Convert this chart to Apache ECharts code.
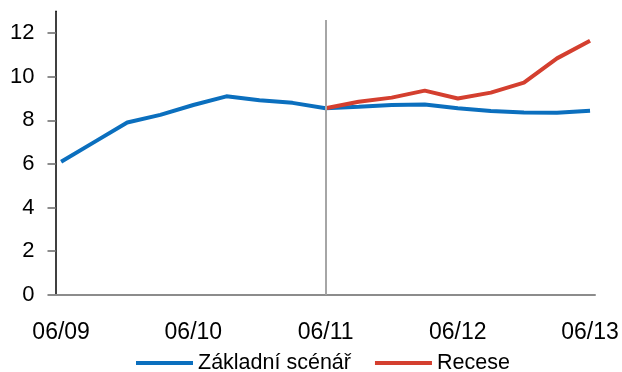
<!DOCTYPE html>
<html>
<head>
<meta charset="utf-8">
<script src="https://cdn.jsdelivr.net/npm/echarts@6/dist/echarts.min.js"></script>
<style>
  html, body { margin: 0; padding: 0; background: #fff; }
  #chart { width: 622px; height: 372px; }
</style>
</head>
<body>
<div id="chart"></div>
<script>
// Quarterly periods, June 2009 to June 2013
const quarters = ['06/09','09/09','12/09','03/10','06/10','09/10','12/10','03/11','06/11',
                  '09/11','12/11','03/12','06/12','09/12','12/12','03/13','06/13'];
const tickLabelIdx = [0, 4, 8, 12, 16];
const yTicks = [0, 2, 4, 6, 8, 10, 12];

// Baseline scenario
const zakladni = [6.1, 7.0, 7.9, 8.25, 8.7, 9.1, 8.92, 8.8, 8.55,
                  8.62, 8.7, 8.72, 8.55, 8.43, 8.36, 8.35, 8.44];
// Recession scenario (starts at the forecast split)
const recese = [null, null, null, null, null, null, null, null, 8.55,
                8.85, 9.04, 9.36, 9.0, 9.27, 9.73, 10.84, 11.65];
const splitIdx = 8;

const pairs = arr => arr.map((v, i) => [i, v]);
const font = '"Liberation Sans", Arial, sans-serif';

const chart = echarts.init(document.getElementById('chart'));
chart.setOption({
  animation: false,
  grid: { left: 55.5, right: 27, top: 11.3, bottom: 77.3, containLabel: false },
  xAxis: {
    type: 'value',
    min: -0.17,
    max: 16.15,
    splitLine: { show: false },
    axisTick: { show: false },
    axisLine: { show: true, onZero: false, lineStyle: { color: '#8c8c8c', width: 2 } },
    axisLabel: {
      customValues: tickLabelIdx,
      formatter: v => quarters[Math.round(v)],
      color: '#000',
      fontFamily: font,
      fontSize: 23,
      margin: 26
    }
  },
  yAxis: {
    type: 'value',
    min: 0,
    max: 13,
    splitLine: { show: false },
    axisLine: { show: true, onZero: false, lineStyle: { color: '#000', width: 1.5 } },
    axisTick: {
      show: true,
      customValues: yTicks,
      length: 8,
      lineStyle: { color: '#8c8c8c', width: 2 }
    },
    axisLabel: {
      customValues: yTicks,
      color: '#000',
      fontFamily: font,
      fontSize: 22,
      margin: 21
    }
  },
  legend: {
    left: 136,
    top: 352,
    padding: 0,
    itemWidth: 57,
    itemHeight: 4,
    itemGap: 24,
    icon: 'rect',
    textStyle: { color: '#000', fontFamily: font, fontSize: 21.5, lineHeight: 21 },
    data: ['Základní scénář', 'Recese']
  },
  series: [
    {
      name: 'Základní scénář',
      type: 'line',
      data: pairs(zakladni),
      showSymbol: false,
      symbol: 'none',
      lineStyle: { color: '#0B6FBE', width: 4 },
      itemStyle: { color: '#0B6FBE' },
      z: 2,
      markLine: {
        silent: true,
        symbol: 'none',
        label: { show: false },
        lineStyle: { color: '#a6a6a6', width: 2, type: 'solid' },
        data: [[{ coord: [splitIdx, 0] }, { coord: [splitIdx, 12.6] }]]
      }
    },
    {
      name: 'Recese',
      type: 'line',
      data: pairs(recese),
      showSymbol: false,
      symbol: 'none',
      lineStyle: { color: '#D43F2F', width: 4 },
      itemStyle: { color: '#D43F2F' },
      z: 3
    }
  ]
});
</script>
</body>
</html>
